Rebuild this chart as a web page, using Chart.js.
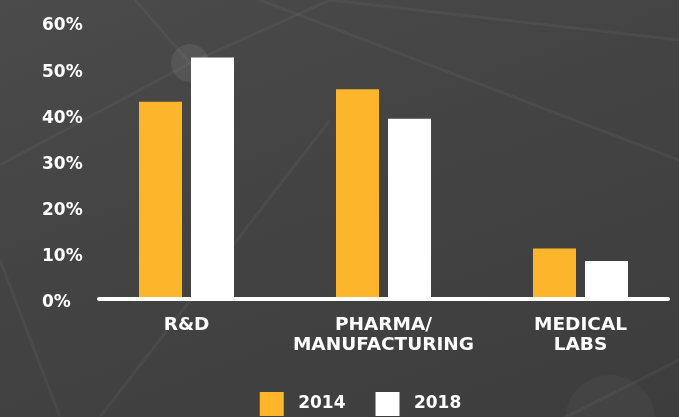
<!DOCTYPE html>
<html>
<head>
<meta charset="utf-8">
<script src="https://cdn.jsdelivr.net/npm/chart.js@4"></script>
<style>
  html, body { margin: 0; padding: 0; }
  body { width: 679px; height: 417px; overflow: hidden;
         background: linear-gradient(160deg, #4c4b4b 0%, #444343 45%, #3d3d3d 100%); }
  #wrap { position: relative; width: 679px; height: 417px; }
</style>
</head>
<body>
<div id="wrap"><canvas id="c" width="679" height="417"></canvas></div>
<script>
const categories = [["R&D"], ["PHARMA/", "MANUFACTURING"], ["MEDICAL", "LABS"]];
const seriesNames = ["2014", "2018"];
const values2014 = [42.5, 45.2, 10.7];
const values2018 = [52.1, 38.8, 8.0];
const yTicks = [0, 10, 20, 30, 40, 50, 60];

const FONT = "'DejaVu Sans', sans-serif";

const bgDeco = {
  id: 'bgDeco',
  beforeDraw(chart) {
    const ctx = chart.ctx;
    ctx.save();
    ctx.strokeStyle = 'rgba(255,255,255,0.045)';
    ctx.lineWidth = 3;
    const lines = [
      [[135, 0], [190, 63]], [[0, 165], [190, 63]], [[190, 63], [330, 0]],
      [[260, 0], [679, 160]], [[330, 0], [679, 40]], [[0, 260], [60, 417]],
      [[100, 417], [330, 120]], [[560, 420], [679, 360]]
    ];
    lines.forEach(([a, b]) => { ctx.beginPath(); ctx.moveTo(a[0], a[1]); ctx.lineTo(b[0], b[1]); ctx.stroke(); });
    ctx.fillStyle = 'rgba(255,255,255,0.08)';
    ctx.beginPath(); ctx.arc(190, 63, 19, 0, Math.PI * 2); ctx.fill();
    ctx.fillStyle = 'rgba(255,255,255,0.03)';
    ctx.beginPath(); ctx.arc(610, 420, 45, 0, Math.PI * 2); ctx.fill();
    ctx.restore();
  }
};

const zeroLine = {
  id: 'zeroLine',
  afterDatasetsDraw(chart) {
    const { ctx, chartArea, scales } = chart;
    const y = scales.y.getPixelForValue(0) + 1;
    ctx.save();
    ctx.strokeStyle = '#ffffff';
    ctx.lineWidth = 4;
    ctx.lineCap = 'round';
    ctx.beginPath();
    ctx.moveTo(chartArea.left + 11, y);
    ctx.lineTo(chartArea.right - 11, y);
    ctx.stroke();
    ctx.restore();
  }
};

new Chart(document.getElementById('c'), {
  type: 'bar',
  data: {
    labels: categories,
    datasets: [
      { label: seriesNames[0], data: values2014, backgroundColor: '#FDB62C', borderWidth: 0 },
      { label: seriesNames[1], data: values2018, backgroundColor: '#FFFFFF', borderWidth: 0 }
    ]
  },
  options: {
    responsive: false,
    animation: false,
    devicePixelRatio: 1,
    categoryPercentage: 0.528,
    barPercentage: 0.827,
    layout: { padding: { left: 42, right: 0, top: 21, bottom: -9 } },
    plugins: {
      tooltip: { enabled: false },
      legend: {
        position: 'bottom',
        labels: {
          color: '#ffffff',
          font: { family: FONT, size: 17, weight: 'bold' },
          boxWidth: 24,
          boxHeight: 24,
          padding: 30,
          generateLabels(chart) {
            return Chart.defaults.plugins.legend.labels.generateLabels(chart)
              .map(l => Object.assign({}, l, { text: ' ' + l.text }));
          }
        }
      }
    },
    scales: {
      x: {
        afterFit(scale) { scale.height = 64; },
        grid: { display: false, drawTicks: false },
        border: { display: false },
        ticks: {
          color: '#ffffff',
          font: { family: FONT, size: 18.5, weight: 'bold', lineHeight: 1.08 },
          padding: 17,
          maxRotation: 0,
          autoSkip: false
        }
      },
      y: {
        min: 0,
        max: 60,
        afterBuildTicks(scale) { scale.ticks = yTicks.map(v => ({ value: v })); },
        afterFit(scale) { scale.width = 46; },
        grid: { display: false, drawTicks: false },
        border: { display: false },
        ticks: {
          color: '#ffffff',
          font: { family: FONT, size: 17, weight: 'bold' },
          crossAlign: 'far',
          labelOffset: 5,
          padding: 5,
          callback: v => v + '%'
        }
      }
    }
  },
  plugins: [bgDeco, zeroLine]
});
</script>
</body>
</html>
